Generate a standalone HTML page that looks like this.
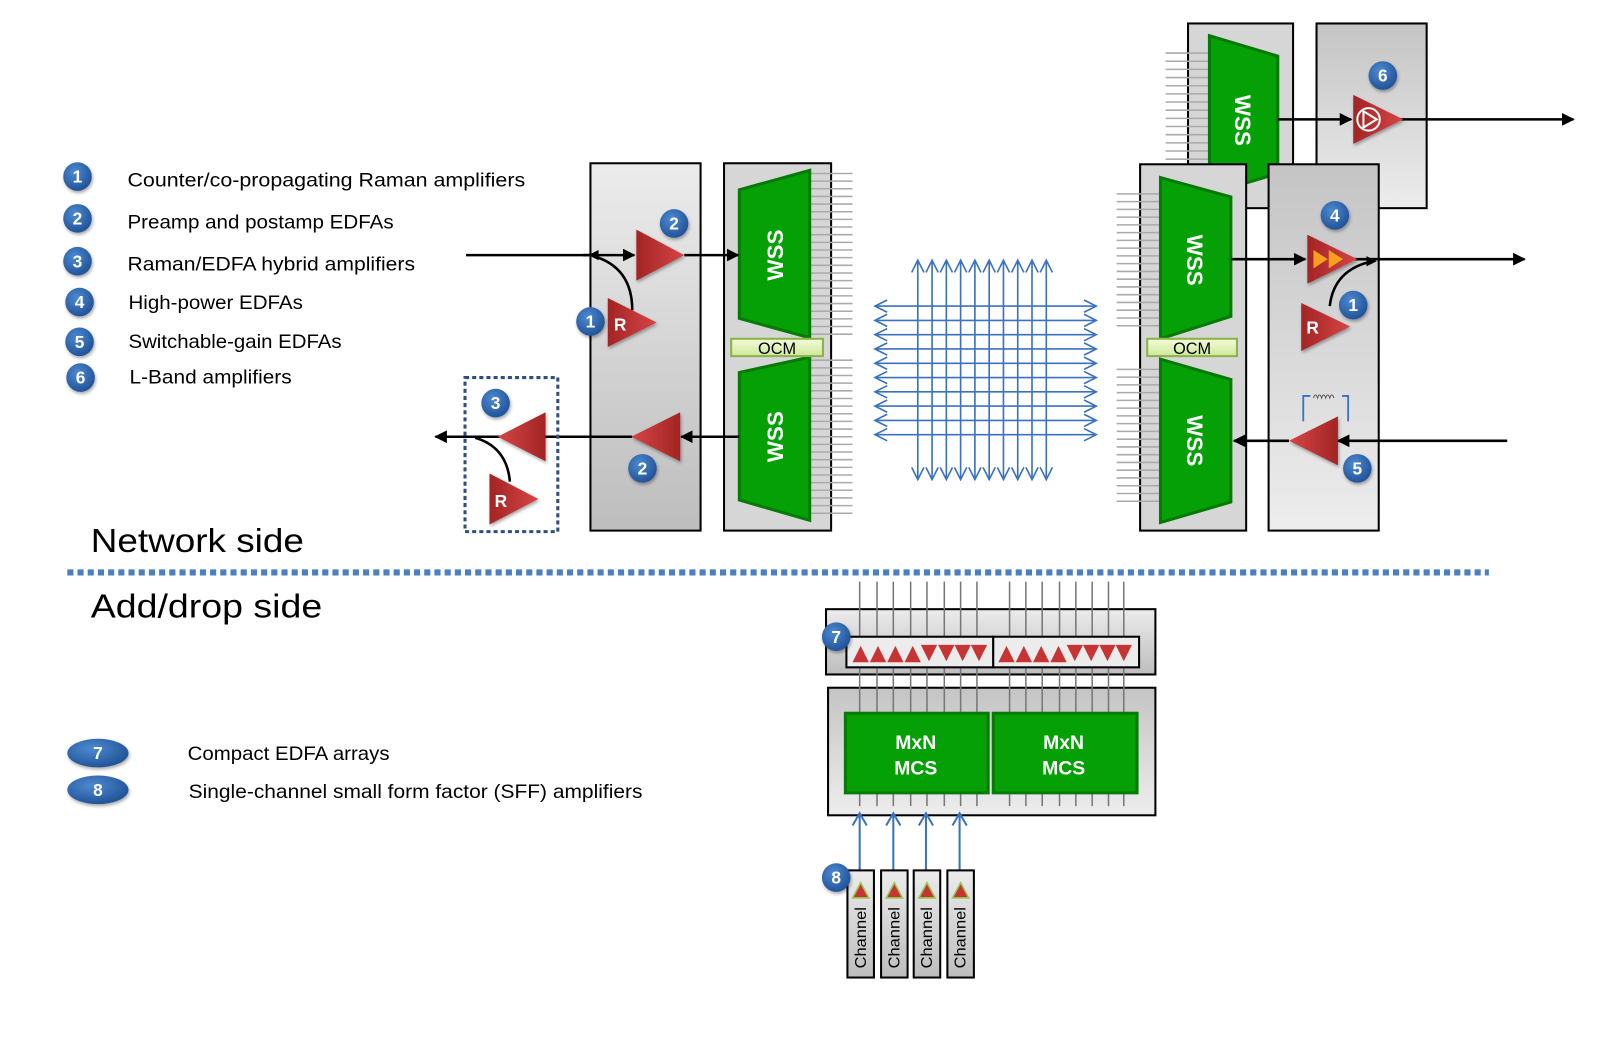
<!DOCTYPE html>
<html><head><meta charset="utf-8"><style>
html,body{margin:0;padding:0;background:#fff;}
svg{display:block;}
text{font-family:"Liberation Sans","DejaVu Sans",sans-serif;}
</style></head><body>
<svg width="1599" height="1051" viewBox="0 0 1568 1030" preserveAspectRatio="none" xmlns="http://www.w3.org/2000/svg">
<defs>
<linearGradient id="gbox" x1="0" y1="0" x2="0" y2="1"><stop offset="0" stop-color="#ececec"/><stop offset="1" stop-color="#bdbdbd"/></linearGradient>
<linearGradient id="gbox2" x1="0" y1="0" x2="0" y2="1"><stop offset="0" stop-color="#c4c4c4"/><stop offset="1" stop-color="#ededed"/></linearGradient>
<linearGradient id="gred" x1="0" y1="0" x2="1" y2="0"><stop offset="0" stop-color="#a32424"/><stop offset="1" stop-color="#d64545"/></linearGradient>
<linearGradient id="gredl" x1="1" y1="0" x2="0" y2="0"><stop offset="0" stop-color="#a32424"/><stop offset="1" stop-color="#d64545"/></linearGradient>
<radialGradient id="gblue" cx="0.4" cy="0.35" r="0.7"><stop offset="0" stop-color="#4d8ad0"/><stop offset="1" stop-color="#1f4f95"/></radialGradient>
<linearGradient id="gocm" x1="0" y1="0" x2="0" y2="1"><stop offset="0" stop-color="#f3fbd9"/><stop offset="1" stop-color="#cfe89a"/></linearGradient>
<marker id="ar" viewBox="0 0 10 10" refX="9" refY="5" markerWidth="5" markerHeight="5" orient="auto"><path d="M0,0L10,5L0,10z" fill="#000"/></marker>
<filter id="sh"><feDropShadow dx="1" dy="2" stdDeviation="1.5" flood-opacity="0.35"/></filter>
</defs>

<!-- legend -->
<g font-size="19" fill="#000">
<text x="125" y="183" textLength="390" lengthAdjust="spacingAndGlyphs">Counter/co-propagating  Raman amplifiers</text>
<text x="125" y="224" textLength="261" lengthAdjust="spacingAndGlyphs">Preamp and postamp EDFAs</text>
<text x="125" y="265" textLength="282" lengthAdjust="spacingAndGlyphs">Raman/EDFA  hybrid amplifiers</text>
<text x="126" y="303" textLength="171" lengthAdjust="spacingAndGlyphs">High-power  EDFAs</text>
<text x="126" y="341" textLength="209" lengthAdjust="spacingAndGlyphs">Switchable-gain  EDFAs</text>
<text x="127" y="376" textLength="159" lengthAdjust="spacingAndGlyphs">L-Band amplifiers</text>
<text x="184" y="745" textLength="198" lengthAdjust="spacingAndGlyphs">Compact EDFA arrays</text>
<text x="185" y="782" textLength="445" lengthAdjust="spacingAndGlyphs">Single-channel  small form factor (SFF) amplifiers</text>
</g>
<g font-size="17" font-weight="bold" fill="#fff" text-anchor="middle" filter="url(#sh)">
<circle cx="76" cy="173" r="14" fill="url(#gblue)"/><text x="76" y="179">1</text>
<circle cx="76" cy="214" r="14" fill="url(#gblue)"/><text x="76" y="220">2</text>
<circle cx="76" cy="256" r="14" fill="url(#gblue)"/><text x="76" y="262">3</text>
<circle cx="78" cy="296" r="14" fill="url(#gblue)"/><text x="78" y="302">4</text>
<circle cx="78" cy="335" r="14" fill="url(#gblue)"/><text x="78" y="341">5</text>
<circle cx="79" cy="370" r="14" fill="url(#gblue)"/><text x="79" y="376">6</text>
<ellipse cx="96" cy="738" rx="30" ry="14" fill="url(#gblue)"/><text x="96" y="744">7</text>
<ellipse cx="96" cy="774" rx="30" ry="14" fill="url(#gblue)"/><text x="96" y="780">8</text>
</g>
<text x="89" y="541" font-size="33" textLength="209" lengthAdjust="spacingAndGlyphs">Network side</text>
<text x="89" y="605" font-size="33" textLength="227" lengthAdjust="spacingAndGlyphs">Add/drop side</text>
<line x1="66" y1="561" x2="1460" y2="561" stroke="#4a7fc0" stroke-width="6" stroke-dasharray="6,4"/>

<!-- left amp panel -->
<rect x="579" y="160" width="108" height="360" fill="url(#gbox)" stroke="#000" stroke-width="2"/>
<!-- WSS panel left -->
<rect x="710" y="160" width="105" height="360" fill="#d6d6d6" stroke="#000" stroke-width="2"/>
<g stroke="#aaa" stroke-width="1.5">
<path d="M794 170H836M794 177.5H836M794 185H836M794 192.5H836M794 200H836M794 207.5H836M794 215H836M794 222.5H836M794 230H836M794 237.5H836M794 245H836M794 252.5H836M794 260H836M794 267.5H836M794 275H836M794 282.5H836M794 290H836M794 297.5H836M794 305H836M794 312.5H836M794 320H836M794 327.5H836"/>
<path d="M794 353H836M794 360.5H836M794 368H836M794 375.5H836M794 383H836M794 390.5H836M794 398H836M794 405.5H836M794 413H836M794 420.5H836M794 428H836M794 435.5H836M794 443H836M794 450.5H836M794 458H836M794 465.5H836M794 473H836M794 480.5H836M794 488H836M794 495.5H836M794 503H836"/>
</g>
<polygon points="725,186 794,167 794,331 725,312" fill="#05a005" stroke="#067a06" stroke-width="3"/>
<polygon points="725,365 794,350 794,510 725,490" fill="#05a005" stroke="#067a06" stroke-width="3"/>
<rect x="717" y="332" width="90" height="17" fill="url(#gocm)" stroke="#8ab34a" stroke-width="2"/>
<text x="762" y="347" font-size="16" text-anchor="middle">OCM</text>
<g font-size="22" font-weight="bold" fill="#fff" text-anchor="middle">
<text transform="translate(768,250) rotate(-90)">WSS</text>
<text transform="translate(768,428) rotate(-90)">WSS</text>
</g>

<!-- left lines/amps -->
<line x1="457" y1="250" x2="622" y2="250" stroke="#000" stroke-width="2.5" marker-end="url(#ar)"/>
<line x1="583" y1="250" x2="572" y2="250" stroke="#000" stroke-width="2.5"/>
<polygon points="577,250 587,245 587,255" fill="#000"/>
<line x1="671" y1="250" x2="724" y2="250" stroke="#000" stroke-width="2.5" marker-end="url(#ar)"/>
<polygon points="624,225 671,250 624,275" fill="url(#gred)" filter="url(#sh)"/>
<path d="M620 304 Q620 262 582 251" fill="none" stroke="#000" stroke-width="2.5"/>
<polygon points="596,292 644,316 596,340" fill="url(#gred)" filter="url(#sh)"/>
<text x="602" y="324" font-size="17" font-weight="bold" fill="#fff">R</text>
<line x1="725" y1="428" x2="668" y2="428" stroke="#000" stroke-width="2.5" marker-end="url(#ar)"/>
<line x1="620" y1="428" x2="427" y2="428" stroke="#000" stroke-width="2.5" marker-end="url(#ar)"/>
<polygon points="667,404 619,428 667,452" fill="url(#gredl)" filter="url(#sh)"/>
<g font-size="17" font-weight="bold" fill="#fff" text-anchor="middle" filter="url(#sh)">
<circle cx="661" cy="219" r="14" fill="url(#gblue)"/><text x="661" y="225">2</text>
<circle cx="579" cy="315" r="14" fill="url(#gblue)"/><text x="579" y="321">1</text>
<circle cx="630" cy="459" r="14" fill="url(#gblue)"/><text x="630" y="465">2</text>
<circle cx="486" cy="395" r="14" fill="url(#gblue)"/><text x="486" y="401">3</text>
</g>
<rect x="456" y="370" width="91" height="151" fill="none" stroke="#2f4f7f" stroke-width="3" stroke-dasharray="4,3"/>
<polygon points="535,404 488,428 535,452" fill="url(#gredl)" filter="url(#sh)"/>
<path d="M500 472 Q497 438 466 429" fill="none" stroke="#000" stroke-width="2.5"/>
<polygon points="480,464 528,489 480,514" fill="url(#gred)" filter="url(#sh)"/>
<text x="485" y="497" font-size="17" font-weight="bold" fill="#fff">R</text>

<!-- crossbar -->
<g stroke="#3a72c0" stroke-width="1.6" fill="none">
<path d="M900 255V470M914 255V470M928 255V470M942 255V470M956 255V470M970 255V470M984 255V470M998 255V470M1012 255V470M1026 255V470"/>
<path d="M858 300H1075M858 314H1075M858 328H1075M858 342H1075M858 356H1075M858 370H1075M858 384H1075M858 398H1075M858 412H1075M858 426H1075"/>
<path d="M894 267L900 255L906 267M908 267L914 255L920 267M922 267L928 255L934 267M936 267L942 255L948 267M950 267L956 255L962 267M964 267L970 255L976 267M978 267L984 255L990 267M992 267L998 255L1004 267M1006 267L1012 255L1018 267M1020 267L1026 255L1032 267"/>
<path d="M894 458L900 470L906 458M908 458L914 470L920 458M922 458L928 470L934 458M936 458L942 470L948 458M950 458L956 470L962 458M964 458L970 470L976 458M978 458L984 470L990 458M992 458L998 470L1004 458M1006 458L1012 470L1018 458M1020 458L1026 470L1032 458"/>
<path d="M870 294L858 300L870 306M870 308L858 314L870 320M870 322L858 328L870 334M870 336L858 342L870 348M870 350L858 356L870 362M870 364L858 370L870 376M870 378L858 384L870 390M870 392L858 398L870 404M870 406L858 412L870 418M870 420L858 426L870 432"/>
<path d="M1063 294L1075 300L1063 306M1063 308L1075 314L1063 320M1063 322L1075 328L1063 334M1063 336L1075 342L1063 348M1063 350L1075 356L1063 362M1063 364L1075 370L1063 376M1063 378L1075 384L1063 390M1063 392L1075 398L1063 404M1063 406L1075 412L1063 418M1063 420L1075 426L1063 432"/>
</g>

<!-- right top WSS panel -->
<rect x="1165" y="23" width="103" height="181" fill="#d6d6d6" stroke="#000" stroke-width="2"/>
<rect x="1291" y="23" width="108" height="181" fill="url(#gbox2)" stroke="#000" stroke-width="2"/>
<g stroke="#aaa" stroke-width="1.5">
<path d="M1143 52H1186M1143 60H1186M1143 68H1186M1143 76H1186M1143 84H1186M1143 92H1186M1143 100H1186M1143 108H1186M1143 116H1186M1143 124H1186M1143 132H1186M1143 140H1186M1143 148H1186M1143 156H1186"/>
</g>
<polygon points="1186,35 1253,55 1253,170 1186,190" fill="#05a005" stroke="#067a06" stroke-width="3"/>
<text transform="translate(1211,118) rotate(90)" font-size="22" font-weight="bold" fill="#fff" text-anchor="middle">WSS</text>
<line x1="1253" y1="117" x2="1325" y2="117" stroke="#000" stroke-width="2.5" marker-end="url(#ar)"/>
<line x1="1373" y1="117" x2="1543" y2="117" stroke="#000" stroke-width="2.5" marker-end="url(#ar)"/>
<polygon points="1327,93 1376,117 1327,141" fill="url(#gred)" filter="url(#sh)"/>
<circle cx="1342" cy="117" r="11" fill="none" stroke="#fff" stroke-width="2"/>
<polygon points="1337,109 1350,117 1337,125" fill="none" stroke="#fff" stroke-width="2"/>

<!-- right lower WSS panel -->
<rect x="1118" y="161" width="104" height="359" fill="#d6d6d6" stroke="#000" stroke-width="2"/>
<rect x="1244" y="161" width="108" height="359" fill="url(#gbox2)" stroke="#000" stroke-width="2"/>
<g stroke="#aaa" stroke-width="1.5">
<path d="M1095 190H1138M1095 197.6H1138M1095 205.2H1138M1095 212.8H1138M1095 220.4H1138M1095 228H1138M1095 235.6H1138M1095 243.2H1138M1095 250.8H1138M1095 258.4H1138M1095 266H1138M1095 273.6H1138M1095 281.2H1138M1095 288.8H1138M1095 296.4H1138M1095 304H1138M1095 311.6H1138M1095 319.2H1138"/>
<path d="M1095 362H1138M1095 369.6H1138M1095 377.2H1138M1095 384.8H1138M1095 392.4H1138M1095 400H1138M1095 407.6H1138M1095 415.2H1138M1095 422.8H1138M1095 430.4H1138M1095 438H1138M1095 445.6H1138M1095 453.2H1138M1095 460.8H1138M1095 468.4H1138M1095 476H1138M1095 483.6H1138M1095 491.2H1138"/>
</g>
<polygon points="1138,174 1207,193 1207,310 1138,332" fill="#05a005" stroke="#067a06" stroke-width="3"/>
<polygon points="1138,352 1207,372 1207,492 1138,512" fill="#05a005" stroke="#067a06" stroke-width="3"/>
<rect x="1125" y="332" width="88" height="17" fill="url(#gocm)" stroke="#8ab34a" stroke-width="2"/>
<text x="1169" y="347" font-size="16" text-anchor="middle">OCM</text>
<g font-size="22" font-weight="bold" fill="#fff" text-anchor="middle">
<text transform="translate(1164,255) rotate(90)">WSS</text>
<text transform="translate(1164,432) rotate(90)">WSS</text>
</g>
<line x1="1207" y1="254" x2="1280" y2="254" stroke="#000" stroke-width="2.5" marker-end="url(#ar)"/>
<line x1="1328" y1="254" x2="1495" y2="254" stroke="#000" stroke-width="2.5" marker-end="url(#ar)"/>
<polygon points="1282,230 1331,254 1282,278" fill="url(#gred)" filter="url(#sh)"/>
<polygon points="1288,245 1302,254 1288,263" fill="#f7a020"/>
<polygon points="1303,245 1317,254 1303,263" fill="#f7a020"/>
<path d="M1304 300 Q1308 264 1346 256" fill="none" stroke="#000" stroke-width="2.5"/>
<polygon points="1340,251 1350,256 1340,261" fill="#000"/>
<polygon points="1276,297 1324,320 1276,344" fill="url(#gred)" filter="url(#sh)"/>
<text x="1281" y="327" font-size="17" font-weight="bold" fill="#fff">R</text>
<line x1="1478" y1="432" x2="1312" y2="432" stroke="#000" stroke-width="2.5" marker-end="url(#ar)"/>
<line x1="1264" y1="432" x2="1210" y2="432" stroke="#000" stroke-width="2.5" marker-end="url(#ar)"/>
<polygon points="1312,408 1264,432 1312,456" fill="url(#gredl)" filter="url(#sh)"/>
<path d="M1285 388H1278V413M1316 388H1322V413" fill="none" stroke="#3a72c0" stroke-width="1.8"/>
<path d="M1288 390 q2 -6 4 0 q2 -6 4 0 q2 -6 4 0 q2 -6 4 0 q2 -6 4 0" fill="none" stroke="#555" stroke-width="1"/>
<g font-size="17" font-weight="bold" fill="#fff" text-anchor="middle" filter="url(#sh)">
<circle cx="1356" cy="74" r="14" fill="url(#gblue)"/><text x="1356" y="80">6</text>
<circle cx="1309" cy="211" r="14" fill="url(#gblue)"/><text x="1309" y="217">4</text>
<circle cx="1327" cy="299" r="14" fill="url(#gblue)"/><text x="1327" y="305">1</text>
<circle cx="1331" cy="459" r="14" fill="url(#gblue)"/><text x="1331" y="465">5</text>
</g>

<!-- add/drop -->
<rect x="810" y="597" width="323" height="64" fill="url(#gbox)" stroke="#000" stroke-width="2"/>
<rect x="812" y="674" width="321" height="125" fill="url(#gbox2)" stroke="#000" stroke-width="2"/>
<g stroke="#777" stroke-width="1.5">
<path d="M843 570V790M860 570V790M876 570V790M893 570V790M909 570V790M926 570V790M942 570V790M958 570V790M990 570V790M1006 570V790M1022 570V790M1039 570V790M1055 570V790M1071 570V790M1087 570V790M1102 570V790"/>
</g>
<rect x="830" y="624" width="144" height="30" fill="#ececec" stroke="#000" stroke-width="2"/>
<rect x="974" y="624" width="143" height="30" fill="#ececec" stroke="#000" stroke-width="2"/>
<g fill="#c83434">
<path d="M836 649l8-16 8 16zM853 649l8-16 8 16zM870 649l8-16 8 16zM887 649l8-16 8 16z"/>
<path d="M903 632l8 16 8-16zM920 632l8 16 8-16zM936 632l8 16 8-16zM952 632l8 16 8-16z"/>
<path d="M979 649l8-16 8 16zM996 649l8-16 8 16zM1013 649l8-16 8 16zM1030 649l8-16 8 16z"/>
<path d="M1046 632l8 16 8-16zM1062 632l8 16 8-16zM1078 632l8 16 8-16zM1094 632l8 16 8-16z"/>
</g>
<rect x="829" y="699" width="140" height="78" fill="#05a005" stroke="#067a06" stroke-width="3"/>
<rect x="974" y="699" width="141" height="78" fill="#05a005" stroke="#067a06" stroke-width="3"/>
<g font-size="19" font-weight="bold" fill="#fff" text-anchor="middle">
<text x="898" y="734">MxN</text><text x="898" y="759">MCS</text>
<text x="1043" y="734">MxN</text><text x="1043" y="759">MCS</text>
</g>
<g stroke="#3a72c0" stroke-width="2" fill="none">
<path d="M843 853V797M836 809L843 797L850 809"/>
<path d="M876 853V797M869 809L876 797L883 809"/>
<path d="M908 853V797M901 809L908 797L915 809"/>
<path d="M941 853V797M934 809L941 797L948 809"/>
</g>
<g>
<rect x="831" y="853" width="26" height="105" fill="url(#gbox)" stroke="#000" stroke-width="2"/>
<rect x="864" y="853" width="26" height="105" fill="url(#gbox)" stroke="#000" stroke-width="2"/>
<rect x="896" y="853" width="26" height="105" fill="url(#gbox)" stroke="#000" stroke-width="2"/>
<rect x="929" y="853" width="26" height="105" fill="url(#gbox)" stroke="#000" stroke-width="2"/>
</g>
<g fill="#c83434" stroke="#8fd050" stroke-width="1.5">
<path d="M836 880l8-15 8 15z"/><path d="M869 880l8-15 8 15z"/><path d="M901 880l8-15 8 15z"/><path d="M934 880l8-15 8 15z"/>
</g>
<g font-size="15" text-anchor="middle">
<text transform="translate(849,919) rotate(-90)" textLength="60" lengthAdjust="spacingAndGlyphs">Channel</text>
<text transform="translate(882,919) rotate(-90)" textLength="60" lengthAdjust="spacingAndGlyphs">Channel</text>
<text transform="translate(914,919) rotate(-90)" textLength="60" lengthAdjust="spacingAndGlyphs">Channel</text>
<text transform="translate(947,919) rotate(-90)" textLength="60" lengthAdjust="spacingAndGlyphs">Channel</text>
</g>
<g font-size="17" font-weight="bold" fill="#fff" text-anchor="middle" filter="url(#sh)">
<circle cx="820" cy="624" r="14" fill="url(#gblue)"/><text x="820" y="630">7</text>
<circle cx="820" cy="860" r="14" fill="url(#gblue)"/><text x="820" y="866">8</text>
</g>
</svg>
</body></html>
